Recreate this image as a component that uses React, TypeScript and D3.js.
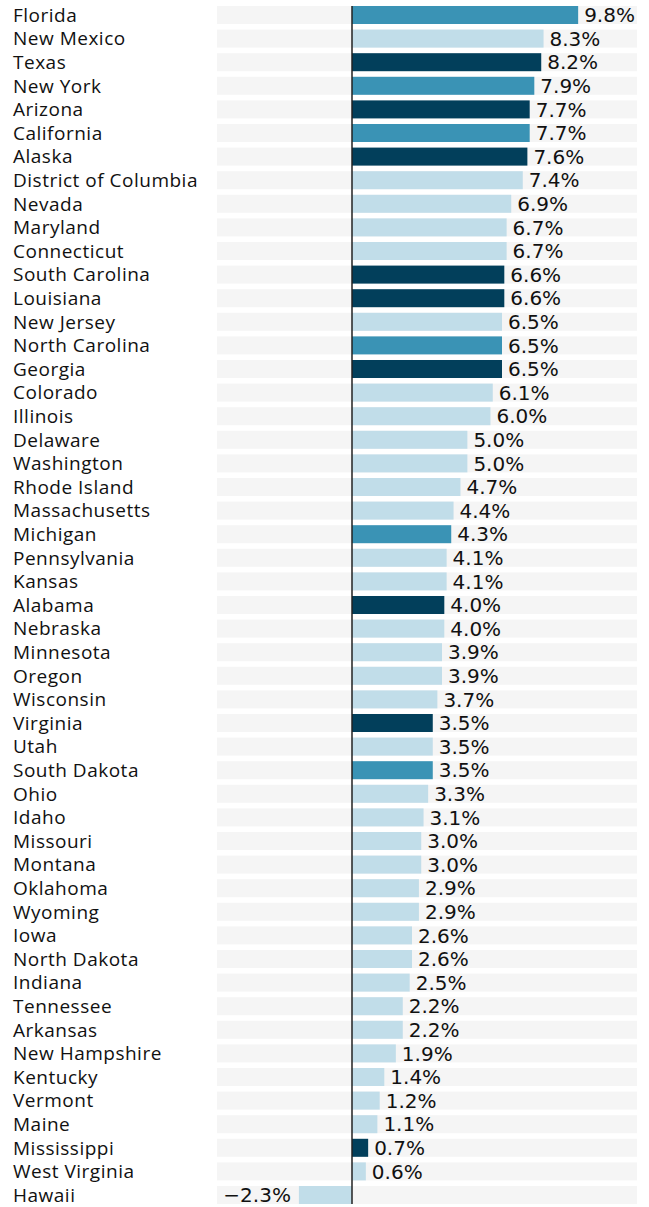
import React from "react";
import * as d3 from "d3";

// states, top to bottom
const states = [
  "Florida", "New Mexico", "Texas", "New York", "Arizona", "California", "Alaska",
  "District of Columbia", "Nevada", "Maryland", "Connecticut", "South Carolina", "Louisiana",
  "New Jersey", "North Carolina", "Georgia", "Colorado", "Illinois", "Delaware", "Washington",
  "Rhode Island", "Massachusetts", "Michigan", "Pennsylvania", "Kansas", "Alabama", "Nebraska",
  "Minnesota", "Oregon", "Wisconsin", "Virginia", "Utah", "South Dakota", "Ohio", "Idaho",
  "Missouri", "Montana", "Oklahoma", "Wyoming", "Iowa", "North Dakota", "Indiana", "Tennessee",
  "Arkansas", "New Hampshire", "Kentucky", "Vermont", "Maine", "Mississippi", "West Virginia", "Hawaii",
];

const values = [
  9.8, 8.3, 8.2, 7.9, 7.7, 7.7, 7.6,
  7.4, 6.9, 6.7, 6.7, 6.6, 6.6,
  6.5, 6.5, 6.5, 6.1, 6.0, 5.0, 5.0,
  4.7, 4.4, 4.3, 4.1, 4.1, 4.0, 4.0,
  3.9, 3.9, 3.7, 3.5, 3.5, 3.5, 3.3, 3.1,
  3.0, 3.0, 2.9, 2.9, 2.6, 2.6, 2.5, 2.2,
  2.2, 1.9, 1.4, 1.2, 1.1, 0.7, 0.6, -2.3,
];

// d = dark, m = medium, l = light
const groups = [
  "m", "l", "d", "m", "d", "m", "d",
  "l", "l", "l", "l", "d", "d",
  "l", "m", "d", "l", "l", "l", "l",
  "l", "l", "m", "l", "l", "d", "l",
  "l", "l", "l", "d", "l", "m", "l", "l",
  "l", "l", "l", "l", "l", "l", "l", "l",
  "l", "l", "l", "l", "l", "d", "l", "l",
];

const colors: Record<string, string> = { d: "#023f5b", m: "#3a93b5", l: "#c1dde9" };

const width = 649;
const height = 1207;

export default function App() {
  const x = d3.scaleLinear().domain([-5.85, 12.35]).range([217, 637]);
  const y = d3.scaleBand<string>()
    .domain(states)
    .range([3.2, 3.2 + states.length * 23.6])
    .paddingInner(0.237)
    .paddingOuter(0.1185);
  const fmt = (v: number) => (v < 0 ? "\u2212" + Math.abs(v).toFixed(1) : v.toFixed(1)) + "%";

  return (
    <svg width={width} height={height} style={{ position: "absolute", left: 0, top: 0 }}>
      {states.map((s, i) => {
        const v = values[i];
        const y0 = y(s)!;
        const bw = y.bandwidth();
        const cy = y0 + bw / 2;
        return (
          <g key={s}>
            <rect x={x.range()[0]} y={y0} width={x.range()[1] - x.range()[0]} height={bw} fill="#f5f5f5" />
            <rect
              x={Math.min(x(0), x(v))}
              y={y0}
              width={Math.abs(x(v) - x(0))}
              height={bw}
              fill={colors[groups[i]]}
            />
            <text x={13} y={cy} dy="0.36em" fontFamily="'Open Sans', sans-serif" fontSize={19} letterSpacing={0.5} fill="#111">
              {s}
            </text>
            <text
              x={v >= 0 ? x(v) + 6 : x(v) - 8}
              y={cy}
              dy="0.36em"
              textAnchor={v >= 0 ? "start" : "end"}
              fontFamily="'DejaVu Sans', sans-serif"
              fontSize={20}
              fill="#111"
            >
              {fmt(v)}
            </text>
          </g>
        );
      })}
      <line x1={x(0)} x2={x(0)} y1={6} y2={1204} stroke="#222" strokeWidth={1.5} />
    </svg>
  );
}
